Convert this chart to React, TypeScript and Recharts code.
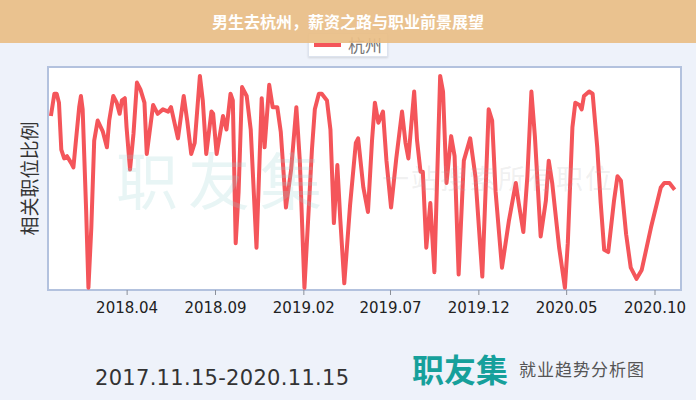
import { LineChart, Line, XAxis, YAxis, ReferenceArea, Legend } from "recharts";

// days since 2017-11-15, one entry per point of the line
const days = [
  5, 11, 15, 19, 23, 28, 33, 40, 44, 48,
  54, 57, 60, 66, 70, 75, 80, 86, 95, 102,
  106, 113, 119, 124, 128, 133, 136, 142, 148, 154,
  160, 167, 171, 182, 190, 199, 208, 213, 225, 235,
  241, 248, 254, 263, 268, 274, 283, 286, 292, 303,
  309, 316, 320, 325, 330, 336, 344, 351, 361, 370,
  375, 383, 389, 397, 403, 412, 421, 430, 436, 444,
  457, 462, 469, 474, 483, 489, 495, 501, 506, 513,
  523, 533, 537, 546, 554, 561, 566, 572, 580, 586,
  594, 603, 613, 619, 624, 634, 639, 645, 649, 655,
  662, 669, 679, 684, 690, 698, 704, 711, 720, 731,
  740, 752, 763, 769, 775, 786, 798, 810, 815, 823,
  830, 837, 843, 853, 862, 867, 873, 885, 895, 900,
  908, 913, 920, 924, 928, 937, 943, 951, 957, 963,
  970, 980, 986, 992, 1001, 1009, 1019, 1028, 1044, 1061,
  1067, 1076, 1085,
];

// 杭州 相关职位比例 (relative, 0-100)
const hangzhou = [
  78, 88, 88, 84, 63, 59, 60, 57, 55, 66,
  82, 87, 81, 36, 1, 28, 67, 76, 71, 64,
  76, 87, 84, 79, 85, 86, 73, 54, 70, 93,
  90, 84, 61, 83, 79, 81, 80, 82, 68, 87,
  76, 61, 66, 96, 85, 61, 80, 79, 61, 78,
  72, 88, 85, 21, 44, 91, 87, 72, 19, 86,
  64, 92, 82, 82, 71, 37, 54, 82, 58, 1,
  63, 81, 88, 88, 85, 72, 30, 56, 32, 3,
  38, 66, 68, 46, 35, 67, 84, 75, 80, 58,
  37, 59, 80, 66, 59, 89, 67, 53, 53, 19,
  39, 8, 96, 89, 48, 69, 60, 7, 58, 68,
  51, 6, 81, 76, 44, 10, 31, 48, 39, 26,
  51, 89, 69, 24, 40, 58, 48, 19, 1, 21,
  73, 84, 83, 81, 87, 89, 88, 64, 39, 18,
  17, 40, 51, 49, 25, 10, 5, 9, 28, 46,
  48, 48, 45,
];

const START = "2017-11-15";
const END = "2020-11-15";
const tickMonths = ["2018-04-01", "2018-09-01", "2019-02-01", "2019-07-01", "2019-12-01", "2020-05-01", "2020-10-01"];

const DAY = 86400000;
const toDay = (s: string) => Math.round((Date.parse(s) - Date.parse(START)) / DAY);
const ticks = tickMonths.map(toDay);
const endDay = toDay(END);

const data = days.map((d, i) => ({ day: d, value: hangzhou[i] }));

const fmtTick = (d: number) => {
  const dt = new Date(Date.parse(START) + d * DAY);
  return `${dt.getUTCFullYear()}.${String(dt.getUTCMonth() + 1).padStart(2, "0")}`;
};

const LINE = "#F4555A";

function LegendBox({ payload }: any) {
  const item = payload && payload[0];
  if (!item) return null;
  return (
    <div style={{ display: "flex", justifyContent: "center" }}>
      <div
        style={{
          background: "#fff",
          border: "1px solid #dde3ee",
          boxShadow: "0 1px 2px rgba(0,0,0,0.12)",
          width: 80,
          height: 24,
          display: "flex",
          alignItems: "center",
          paddingLeft: 5,
          boxSizing: "border-box",
        }}
      >
        <span style={{ display: "inline-block", width: 27, height: 4, background: item.color, marginRight: 7 }} />
        <span style={{ fontSize: 17, color: "#777", fontFamily: "'Noto Sans CJK SC', sans-serif", lineHeight: "24px" }}>
          {item.value}
        </span>
      </div>
    </div>
  );
}

export default function App() {
  return (
    <div
      style={{
        position: "absolute",
        left: 0,
        top: 0,
        width: 696,
        height: 400,
        background: "#EEF2FA",
        overflow: "hidden",
        fontFamily: "'Noto Sans CJK SC', sans-serif",
      }}
    >
      <LineChart width={696} height={400} data={data} margin={{ top: 43, right: 15, bottom: 80, left: 0 }}>
        <ReferenceArea x1={0} x2={endDay} y1={0} y2={100} fill="#ffffff" fillOpacity={1} stroke="#B3C2DE" strokeWidth={2} />
        <XAxis
          dataKey="day"
          type="number"
          domain={[0, endDay]}
          ticks={ticks}
          tickFormatter={fmtTick}
          axisLine={false}
          tickLine={{ stroke: "#8a8f99" }}
          tickSize={5}
          tickMargin={7}
          tick={{ fill: "#222", fontSize: 15, fontFamily: "'DejaVu Sans', sans-serif" }}
        />
        <YAxis
          type="number"
          domain={[0, 100]}
          width={48}
          tick={false}
          axisLine={false}
          tickLine={false}
          label={{
            value: "相关职位比例",
            angle: -90,
            position: "center",
            dx: 6,
            fill: "#333",
            fontSize: 19,
            fontFamily: "'Noto Sans CJK SC', sans-serif",
          }}
        />
        <Legend verticalAlign="top" content={<LegendBox />} wrapperStyle={{ top: 33, left: 0, width: 696 }} />
        <Line
          type="linear"
          dataKey="value"
          name="杭州"
          stroke={LINE}
          strokeWidth={4}
          strokeLinejoin="round"
          dot={false}
          isAnimationActive={false}
        />
      </LineChart>

      {/* watermark */}
      <div
        style={{
          position: "absolute",
          left: 116,
          top: 140,
          fontSize: 62,
          letterSpacing: 10,
          color: "rgba(150,210,210,0.22)",
          lineHeight: "76px",
          pointerEvents: "none",
        }}
      >
        职友集
      </div>
      <div
        style={{
          position: "absolute",
          left: 382,
          top: 162,
          fontSize: 27,
          letterSpacing: 2,
          color: "rgba(170,170,170,0.18)",
          lineHeight: "32px",
          pointerEvents: "none",
        }}
      >
        一站搜索所有职位
      </div>

      {/* title band */}
      <div
        style={{
          position: "absolute",
          left: 0,
          top: 0,
          width: 696,
          height: 43,
          background: "rgba(233,190,134,0.93)",
          color: "#fff",
          fontWeight: 700,
          fontSize: 16,
          lineHeight: "43px",
          textAlign: "center",
        }}
      >
        男生去杭州，薪资之路与职业前景展望
      </div>

      {/* footer */}
      <div
        style={{
          position: "absolute",
          left: 95,
          top: 365,
          fontSize: 21,
          lineHeight: "26px",
          letterSpacing: 0.3,
          color: "#333",
          fontFamily: "'DejaVu Sans', sans-serif",
        }}
      >
        2017.11.15-2020.11.15
      </div>
      <div
        style={{
          position: "absolute",
          left: 412,
          top: 348,
          fontSize: 32,
          fontWeight: 700,
          lineHeight: "40px",
          color: "#16A09B",
        }}
      >
        职友集
      </div>
      <div
        style={{
          position: "absolute",
          left: 519,
          top: 358,
          fontSize: 17,
          lineHeight: "22px",
          color: "#555",
          letterSpacing: 1,
        }}
      >
        就业趋势分析图
      </div>
    </div>
  );
}
